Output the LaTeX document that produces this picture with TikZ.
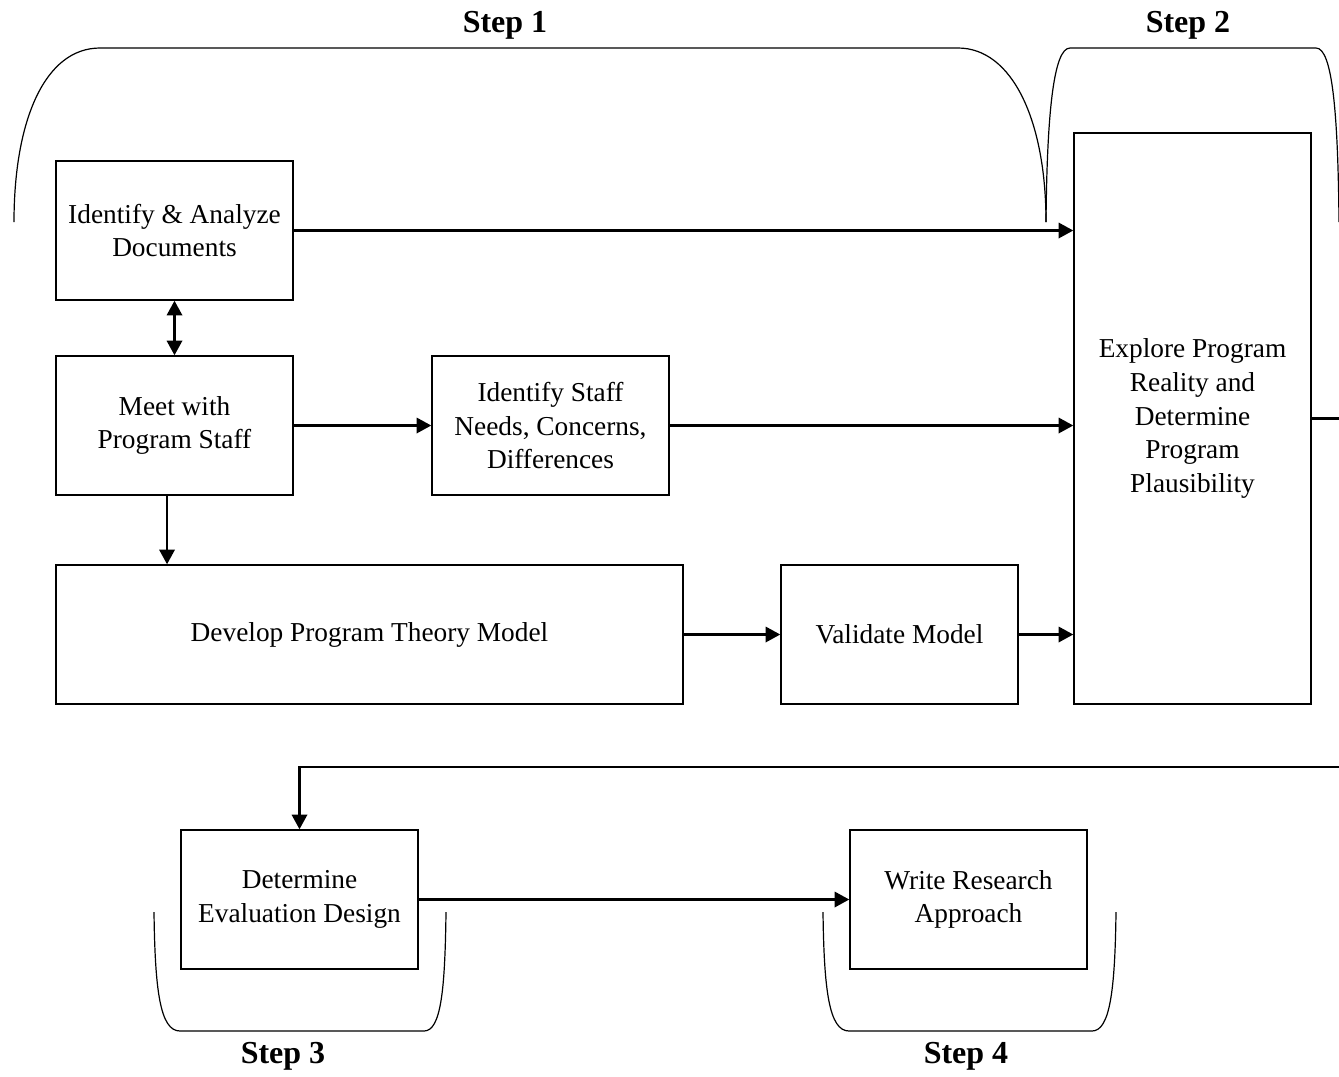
\documentclass[tikz,border=0pt]{standalone}
\usepackage{fontspec}
\setmainfont{Liberation Serif}
\usetikzlibrary{arrows.meta}
\begin{document}
\begin{tikzpicture}[x=0.75pt,y=0.75pt,yscale=-1,xscale=1,
  box/.style={draw,line width=1.1pt,minimum width=177.75pt,minimum height=104.25pt,align=center,inner sep=2pt,font=\fontsize{20.5}{25.2}\selectfont},
  arr/.style={line width=1.8pt,-{Triangle[length=11pt,width=11.5pt]}},
  brace/.style={line width=0.9pt},
  steplbl/.style={font=\fontsize{24}{28}\selectfont\bfseries,inner sep=0pt}]
\useasboundingbox (0,0) rectangle (1339,1076);
% boxes
\node [box] (docs) at (174.5,230.5) {Identify \& Analyze\\Documents};
\node [box] (meet) at (174.5,425.5) {Meet with\\Program Staff};
\node [box] (needs) at (550.5,425.5) {Identify Staff\\Needs, Concerns,\\Differences};
\node [box,minimum width=470.25pt] (develop) at (369.5,634.5) {Develop Program Theory Model};
\node [box] (validate) at (899.5,634.5) {Validate Model};
\node [box,minimum height=428.25pt] (explore) at (1192.5,418.5) {Explore Program\\Reality and\\Determine\\Program\\Plausibility};
\node [box] (evaldes) at (299.5,899.5) {Determine\\Evaluation Design};
\node [box] (write) at (968.5,899.5) {Write Research\\Approach};
% connectors
\draw [arr] (docs.east) -- (docs.east -| explore.west);
\draw [line width=1.8pt,{Triangle[length=11pt,width=11.5pt]}-{Triangle[length=11pt,width=11.5pt]}] (docs.south) -- (meet.north);
\draw [arr] (meet.east) -- (needs.west);
\draw [arr] (needs.east) -- (needs.east -| explore.west);
\draw [arr] ([xshift=-5.6pt]meet.south) -- ([xshift=-5.6pt]meet.south |- develop.north);
\draw [arr] (develop.east) -- (validate.west);
\draw [arr] (validate.east) -- (validate.east -| explore.west);
\coordinate (turn) at (1345,767);
\draw [arr] (explore.east) -| (turn) -- (turn -| evaldes.north) -- (evaldes.north);
\draw [arr] (evaldes.east) -- (write.west);
% braces
\draw [brace] (14,222) .. controls (14,120) and (45,48) .. (100,48) -- (958,48) .. controls (1012,48) and (1046,120) .. (1046,222);
\draw [brace] (1046,222) .. controls (1047,110) and (1054,48) .. (1070,48) -- (1316,48) .. controls (1332,48) and (1338,110) .. (1339,222);
\draw [brace] (154,912) .. controls (155,990) and (160,1031) .. (180,1031) -- (424,1031) .. controls (441,1031) and (445,990) .. (446,912);
\draw [brace] (823,912) .. controls (824,990) and (829,1031) .. (849,1031) -- (1092,1031) .. controls (1110,1031) and (1115,990) .. (1116,912);
% step labels
\node [steplbl] (s1) at (505,25) {Step 1};
\node [steplbl] (s2) at (1188,25) {Step 2};
\node [steplbl] (s3) at (283,1056) {Step 3};
\node [steplbl] (s4) at (966,1056) {Step 4};
\end{tikzpicture}
\end{document}
